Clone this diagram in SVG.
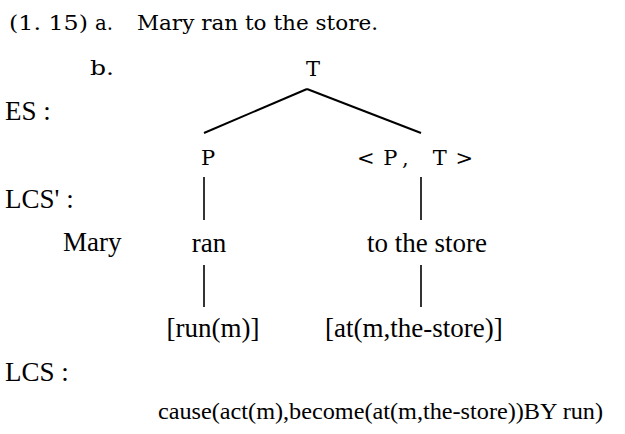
<svg xmlns="http://www.w3.org/2000/svg" width="625" height="434" viewBox="0 0 625 434">
<style>
.t{font-family:"Liberation Serif","Times New Roman",serif;font-size:27px;fill:#000}
.m{font-family:"DejaVu Serif","Liberation Serif",serif;font-size:21px;fill:#000}
.lcs{font-family:"Liberation Serif","Times New Roman",serif;font-size:24px;fill:#000}
.c line{stroke:#000;fill:none}
.tree{stroke-width:2}
.v{stroke-width:1.6;stroke:#222}
</style>
<rect width="625" height="434" fill="#fff"/>
<g id="header">
<text class="m" x="9" y="30" textLength="79" lengthAdjust="spacingAndGlyphs">(1. 15)</text>
<text class="m" x="95" y="30" textLength="18" lengthAdjust="spacingAndGlyphs">a.</text>
<text class="m" x="137" y="30" textLength="241" lengthAdjust="spacingAndGlyphs">Mary ran to the store.</text>
<text class="m" x="90" y="75" textLength="24" lengthAdjust="spacingAndGlyphs">b.</text>
</g>
<g id="labels">
<text class="t" x="5" y="120">ES :</text>
<text class="t" x="5" y="208">LCS' :</text>
<text class="t" x="5" y="381">LCS :</text>
</g>
<g id="node-T"><text class="m" x="313" y="76" text-anchor="middle">T</text></g>
<g id="node-P"><text class="m" x="208" y="165" text-anchor="middle">P</text></g>
<g id="node-PT"><text class="m" x="357" y="165" textLength="116" lengthAdjust="spacing">&lt;P,  T&gt;</text></g>
<g id="node-Mary"><text class="t" x="63" y="251">Mary</text></g>
<g id="node-ran"><text class="t" x="209" y="252" text-anchor="middle">ran</text></g>
<g id="node-store"><text class="t" x="427" y="252" text-anchor="middle">to the store</text></g>
<g id="node-run"><text class="t" x="213" y="337" text-anchor="middle">[run(m)]</text></g>
<g id="node-at"><text class="t" x="325" y="337">[at(m,the-store)]</text></g>
<g id="lcs"><text class="lcs" x="158" y="419" textLength="445" lengthAdjust="spacingAndGlyphs">cause(act(m),become(at(m,the-store))BY run)</text></g>
<g id="connectors" class="c">
<line class="tree" x1="307" y1="89" x2="204" y2="133"/>
<line class="tree" x1="307" y1="89" x2="421" y2="133"/>
<line class="v" x1="204" y1="177" x2="204" y2="220"/>
<line class="v" x1="421" y1="177" x2="421" y2="220"/>
<line class="v" x1="204" y1="265" x2="204" y2="307"/>
<line class="v" x1="421" y1="265" x2="421" y2="307"/>
</g>
</svg>
